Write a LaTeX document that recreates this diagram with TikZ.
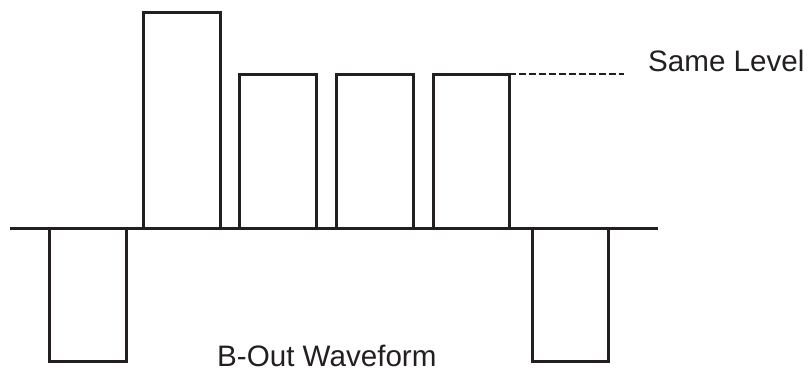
\documentclass[tikz,border=0pt]{standalone}
\usepackage{fontspec}
\setmainfont{Liberation Sans}
\definecolor{ink}{HTML}{231F20}
\begin{document}
\begin{tikzpicture}[x=1pt,y=-1pt,
  wave/.style={line width=3pt, line cap=butt, line join=miter, draw=ink},
  level/.style={line width=2.4pt, draw=ink, dash pattern=on 6.5pt off 3.5pt},
  lbl/.style={inner sep=0pt, anchor=base west, text=ink, font=\fontsize{29.6}{35}\selectfont}]
\useasboundingbox (0,0) rectangle (808,372);
% axis
\draw[wave] (10,228) -- (658,228);
% negative pulses
\draw[wave] (49,228) -- (49,361) -- (126,361) -- (126,228);
\draw[wave] (532,228) -- (532,361) -- (608,361) -- (608,228);
% tall pulse
\draw[wave] (143,228) -- (143,12) -- (220,12) -- (220,228);
% equal pulses
\draw[wave] (239,228) -- (239,74) -- (316,74) -- (316,228);
\draw[wave] (336,228) -- (336,74) -- (413,74) -- (413,228);
\draw[wave] (433,228) -- (433,74) -- (509,74) -- (509,228);
% dashed level line
\coordinate (lvlA) at (509,74);
\coordinate (lvlB) at (624,74);
\draw[level] (lvlA) -- (lvlB);
% labels
\node[lbl] (same) at (648,71.7) {Same Level};
\node[lbl] (title) at (217,366.7) {B-Out Waveform};
\end{tikzpicture}
\end{document}
